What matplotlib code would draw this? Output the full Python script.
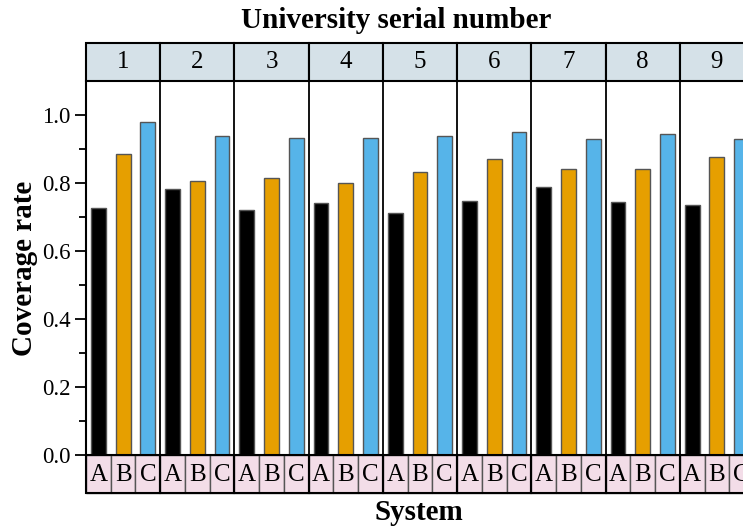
import matplotlib.pyplot as plt
from matplotlib.patches import Rectangle
import numpy as np

plt.rcParams['font.family'] = ['Liberation Serif', 'DejaVu Serif']

universities = ['1', '2', '3', '4', '5', '6', '7', '8', '9']
systems = ['A', 'B', 'C']
rate_a = [0.727, 0.782, 0.722, 0.741, 0.711, 0.747, 0.787, 0.743, 0.736]
rate_b = [0.886, 0.805, 0.814, 0.801, 0.831, 0.870, 0.841, 0.841, 0.876]
rate_c = [0.978, 0.939, 0.931, 0.933, 0.939, 0.951, 0.929, 0.944, 0.929]
colors = ['#000000', '#E69F00', '#56B4E9']

W, H = 743, 526
fig = plt.figure(figsize=(W / 100, H / 100), dpi=100)

x0, x1 = 86, 754
y_top, y_bot = 81, 455
strip_h = 38
left = x0 / W
width = (x1 - x0) / W
ax = fig.add_axes([left, (H - y_bot) / H, width, (y_bot - y_top) / H])
ax_top = fig.add_axes([left, (H - y_top) / H, width, strip_h / H])
ax_bot = fig.add_axes([left, (H - y_bot - strip_h) / H, width, strip_h / H])

n = len(universities)
ns = len(systems)
for k, vals in enumerate([rate_a, rate_b, rate_c]):
    xs = np.arange(n) * ns + k + 0.5
    ax.bar(xs, vals, width=0.6, color=colors[k], edgecolor='#555555', linewidth=1.0, zorder=3)

for i in range(1, n):
    ax.axvline(i * ns, color='black', lw=1.3, zorder=4)

ax.set_xlim(0, n * ns)
ax.set_ylim(0, 1.1)
ax.set_yticks(np.arange(0, 1.01, 0.2))
ax.set_yticks(np.arange(0.1, 1.1, 0.2), minor=True)
ax.set_yticklabels(['%.1f' % v for v in np.arange(0, 1.01, 0.2)], fontsize=16.5)
ax.tick_params(axis='y', which='major', direction='out', length=8, width=1.3, pad=3)
ax.tick_params(axis='y', which='minor', direction='out', length=5, width=1.3)
ax.set_xticks([])
for s in ['top', 'right', 'bottom']:
    ax.spines[s].set_visible(False)
ax.spines['left'].set_linewidth(1.5)
ax.set_ylabel('Coverage rate', fontsize=21, fontweight='bold', labelpad=3)

# header strip
ax_top.set_xlim(0, n * ns)
ax_top.set_ylim(0, 1)
ax_top.axis('off')
for i, u in enumerate(universities):
    ax_top.add_patch(Rectangle((i * ns, 0), ns, 1, facecolor='#D5E1E8',
                               edgecolor='black', lw=1.5, clip_on=False))
    ax_top.text(i * ns + ns / 2, 0.5, u, ha='center', va='center', fontsize=18)

# bottom strip
ax_bot.set_xlim(0, n * ns)
ax_bot.set_ylim(0, 1)
ax_bot.axis('off')
for i in range(n):
    for k, s in enumerate(systems):
        ax_bot.add_patch(Rectangle((i * ns + k, 0), 1, 1, facecolor='#F3DDE8',
                                   edgecolor='#555555', lw=1.0, clip_on=False))
        ax_bot.text(i * ns + k + 0.5, 0.47, s, ha='center', va='center', fontsize=18)
    ax_bot.add_patch(Rectangle((i * ns, 0), ns, 1, facecolor='none',
                               edgecolor='black', lw=1.5, clip_on=False))

fig.text(396 / W, 1 - 21 / H, 'University serial number', ha='center', va='center',
         fontsize=21, fontweight='bold')
fig.text(419 / W, 1 - 512 / H, 'System', ha='center', va='center',
         fontsize=21, fontweight='bold')

fig.savefig('out.png', dpi=100)
